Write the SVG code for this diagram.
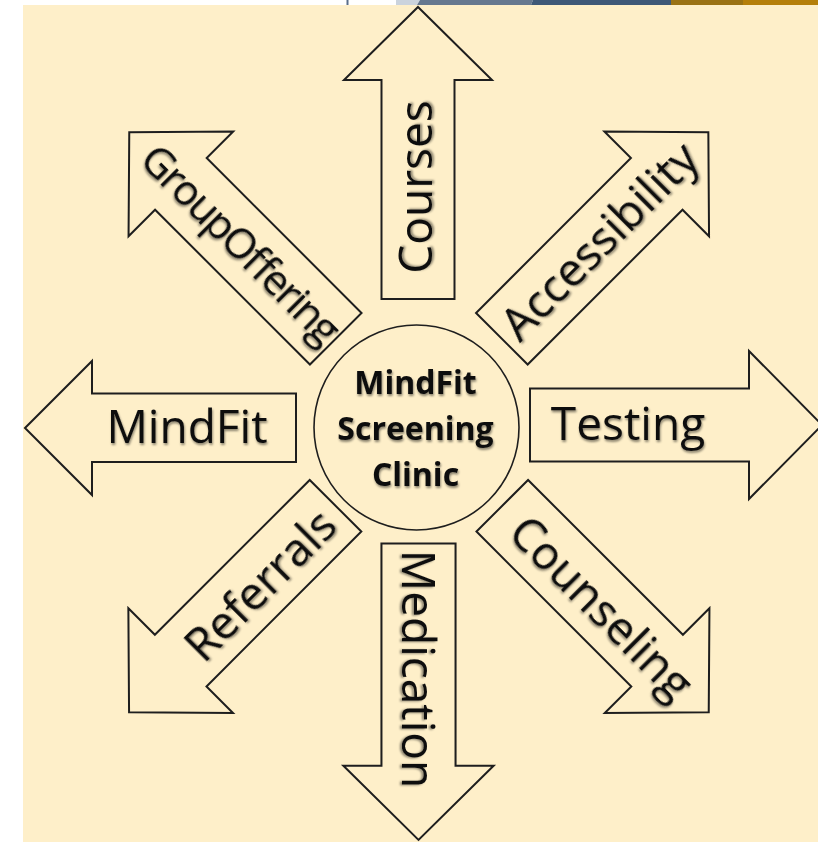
<svg xmlns="http://www.w3.org/2000/svg" xmlns:xlink="http://www.w3.org/1999/xlink" width="818" height="842" viewBox="0 0 818 842">
  <style>
    .arrow { fill: #FEEFC9; stroke: #1E1E1E; stroke-width: 2; stroke-linejoin: miter; }
    .label { font-family: "Open Sans", "Noto Sans", "DejaVu Sans", sans-serif; font-size: 46px; fill: #111; text-anchor: middle; filter: url(#shadow); }
    .hub { font-family: "Open Sans", "Noto Sans", "DejaVu Sans", sans-serif; font-size: 32px; font-weight: 700; fill: #111; text-anchor: middle; filter: url(#shadow); }
  </style>
  <defs>
    <!-- block arrow pointing up, centred on the origin -->
    <path id="blockArrow" d="M0,-146 L74,-73 L36.5,-73 L36.5,146 L-36.5,146 L-36.5,-73 L-74,-73 Z"/>
    <filter id="shadow" x="-10%" y="-30%" width="120%" height="160%">
      <feDropShadow dx="0.8" dy="2" stdDeviation="1.2" flood-color="#000" flood-opacity="0.45"/>
    </filter>
  </defs>

  <!-- page and header strip -->
  <rect x="0" y="0" width="818" height="842" fill="#FFFFFF"/>
  <rect x="23" y="5" width="795" height="837" fill="#FEEFC9"/>
  <g id="header-strip">
    <rect x="346.5" y="0" width="2" height="5" fill="#5A6E8A"/>
    <polygon points="396,0 420,0 417,5 396,5" fill="#CBD3DD"/>
    <polygon points="420,0 533,0 531,5 417,5" fill="#66788F"/>
    <polygon points="533,0 671,0 671,5 531,5" fill="#3E5877"/>
    <rect x="671" y="0" width="72" height="5" fill="#9A7214"/>
    <rect x="743" y="0" width="75" height="5" fill="#B57F0A"/>
  </g>

  <g id="courses">
    <use xlink:href="#blockArrow" class="arrow" transform="translate(418,153)"/>
    <text class="label" transform="translate(432,187) rotate(-90)">Courses</text>
  </g>

  <g id="accessibility">
    <use xlink:href="#blockArrow" class="arrow" transform="translate(605.1,235.5) rotate(45)"/>
    <text class="label" transform="translate(610.7,252.5) rotate(-45)">Accessibility</text>
  </g>

  <g id="testing">
    <use xlink:href="#blockArrow" class="arrow" transform="translate(676,425) rotate(90)"/>
    <text class="label" x="628" y="440">Testing</text>
  </g>

  <g id="counseling">
    <use xlink:href="#blockArrow" class="arrow" transform="translate(605.5,609) rotate(135)"/>
    <text class="label" transform="translate(590,618.9) rotate(45)">Counseling</text>
  </g>

  <g id="medication">
    <use xlink:href="#blockArrow" class="arrow" transform="translate(418.5,691.7) rotate(180) scale(1.015)"/>
    <text class="label" transform="translate(402,669) rotate(90)">Medication</text>
  </g>

  <g id="referrals">
    <use xlink:href="#blockArrow" class="arrow" transform="translate(232.3,609) rotate(-135)"/>
    <text class="label" transform="translate(271.6,596.5) rotate(-45)">Referrals</text>
  </g>

  <g id="mindfit">
    <path class="arrow" d="M25,428 L92,361 L92,393.5 L296,393.5 L296,462 L92,462 L92,495 Z"/>
    <text class="label" x="187" y="443">MindFit</text>
  </g>

  <g id="group-offering">
    <use xlink:href="#blockArrow" class="arrow" transform="translate(232.5,235.5) rotate(-45)"/>
    <text class="label" style="font-size:42px" transform="translate(230.5,254.5) rotate(45)" textLength="262" lengthAdjust="spacing">GroupOffering</text>
  </g>

  <g id="hub">
    <circle cx="416.5" cy="427.5" r="102.5" fill="#FEEFC9" stroke="#1E1E1E" stroke-width="1.6"/>
    <text class="hub" x="415.5" y="394">MindFit</text>
    <text class="hub" x="415.5" y="439.5">Screening</text>
    <text class="hub" x="415.5" y="485.5">Clinic</text>
  </g>
</svg>
